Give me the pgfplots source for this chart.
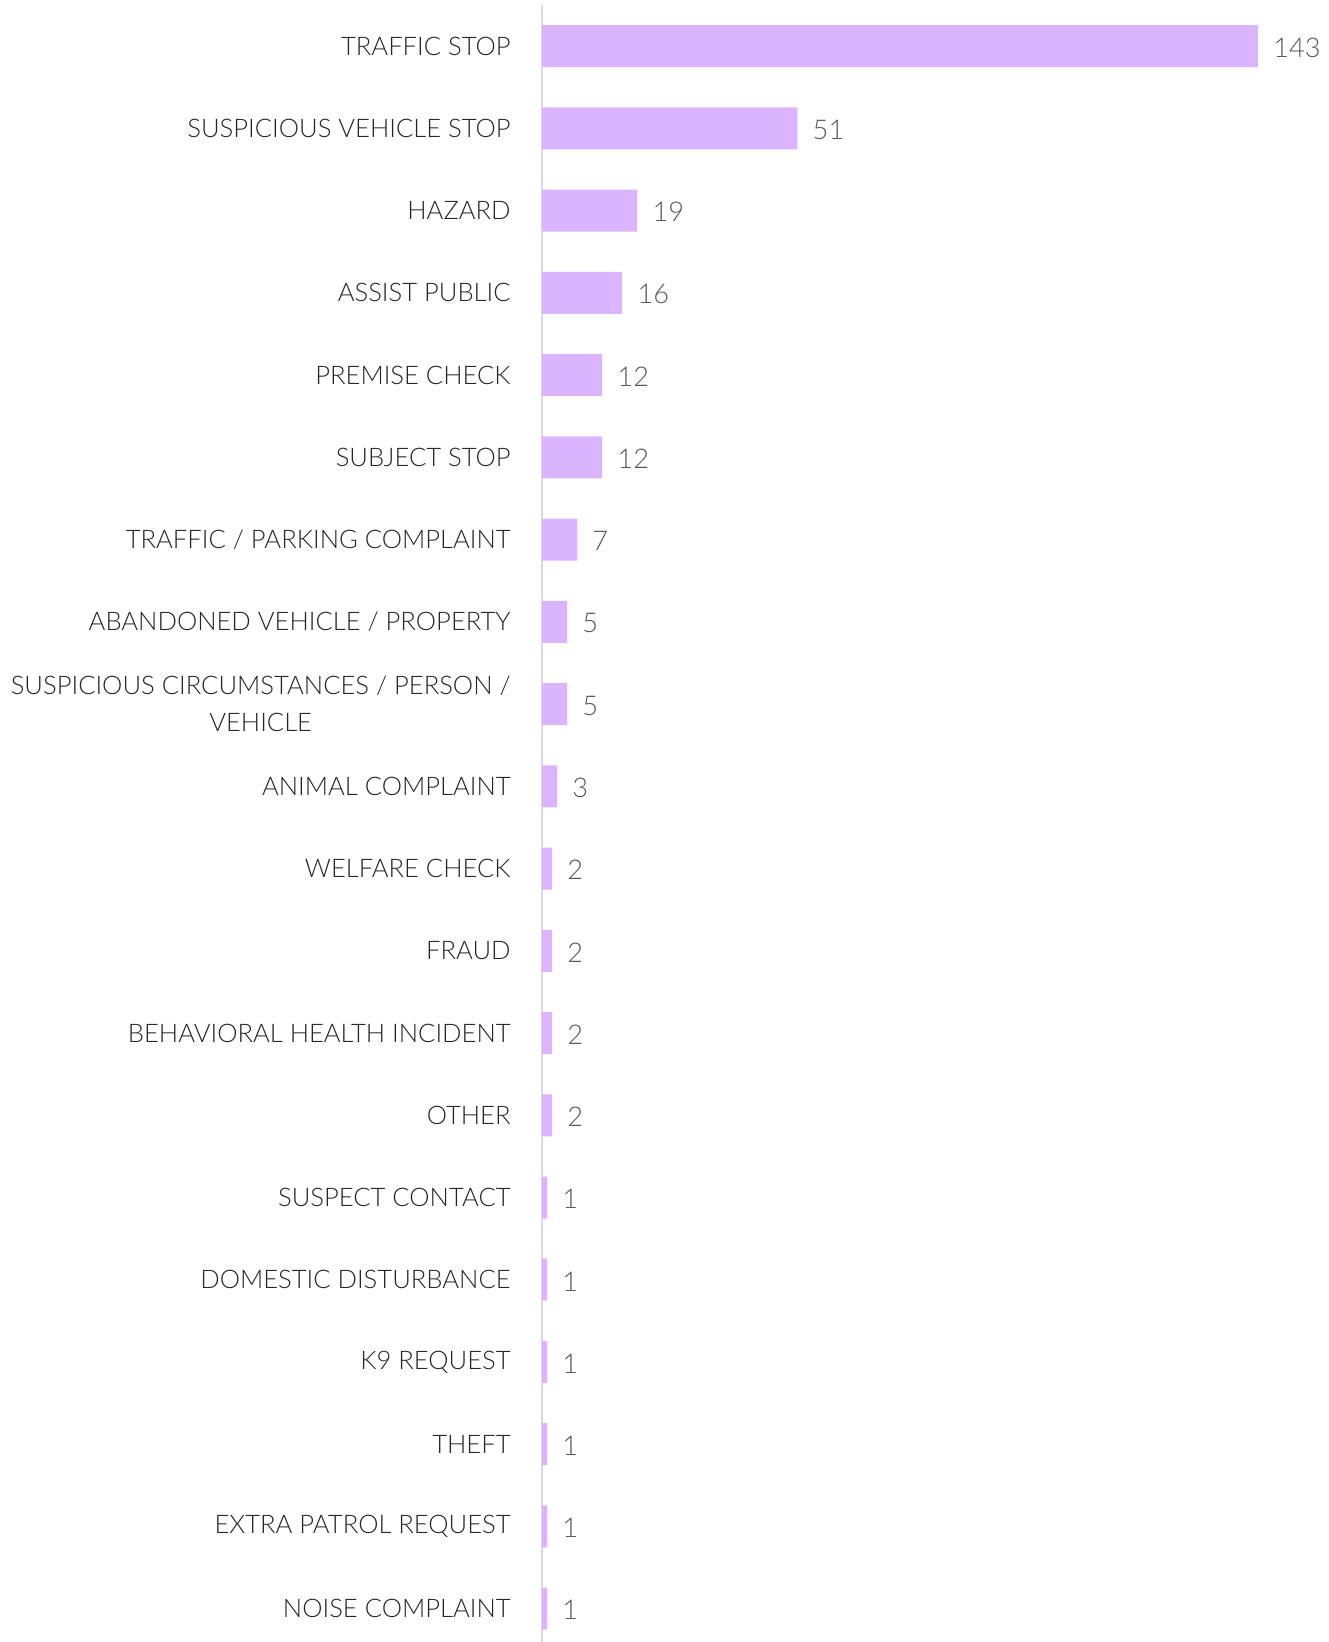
\documentclass[border=0pt]{standalone}
\usepackage{pgfplots}
\pgfplotsset{compat=1.18}
\usepackage{fontspec}
\setmainfont{Lato}[UprightFont=* Light]
\definecolor{barc}{HTML}{DAB4FE}
\definecolor{axc}{HTML}{D9D9D9}
\definecolor{labc}{HTML}{262626}
\definecolor{valc}{HTML}{595959}
\begin{document}
\begin{tikzpicture}
\begin{axis}[
  at={(271pt,818.5pt)}, anchor=north west,
  scale only axis, width=393pt, height=818.5pt,
  xmin=0, xmax=157, ymin=-0.5, ymax=19.405,
  y dir=reverse,
  xbar, bar width=21pt,
  axis x line=none,
  axis y line*=left,
  y axis line style={draw=axc, line width=1.2pt},
  ytick={0,...,19},
  yticklabels={TRAFFIC STOP, SUSPICIOUS VEHICLE STOP, HAZARD, ASSIST PUBLIC, PREMISE CHECK, SUBJECT STOP, TRAFFIC / PARKING COMPLAINT, ABANDONED VEHICLE / PROPERTY, {SUSPICIOUS CIRCUMSTANCES / PERSON /\\VEHICLE}, ANIMAL COMPLAINT, WELFARE CHECK, FRAUD, BEHAVIORAL HEALTH INCIDENT, OTHER, SUSPECT CONTACT, DOMESTIC DISTURBANCE, K9 REQUEST, THEFT, EXTRA PATROL REQUEST, NOISE COMPLAINT},
  ytick style={draw=none}, major tick length=0pt,
  yticklabel style={align=center, inner sep=0pt, xshift=-15.5pt, text=labc, font=\fontsize{12.8}{18.3}\selectfont},
  /pgf/number format/assume math mode=true,
  clip=false,
  nodes near coords,
  nodes near coords style={text=valc, font=\fontsize{13.6}{16}\selectfont, inner sep=0pt, xshift=7.5pt, yshift=-0.8pt, anchor=west},
]
\addplot[fill=barc, draw=none] coordinates {
(143,0) (51,1) (19,2) (16,3) (12,4) (12,5) (7,6) (5,7) (5,8) (3,9)
(2,10) (2,11) (2,12) (2,13) (1,14) (1,15) (1,16) (1,17) (1,18) (1,19)};
\end{axis}
\pgfresetboundingbox
\path[use as bounding box] (0,0) rectangle (664pt,821pt);
\end{tikzpicture}
\end{document}
